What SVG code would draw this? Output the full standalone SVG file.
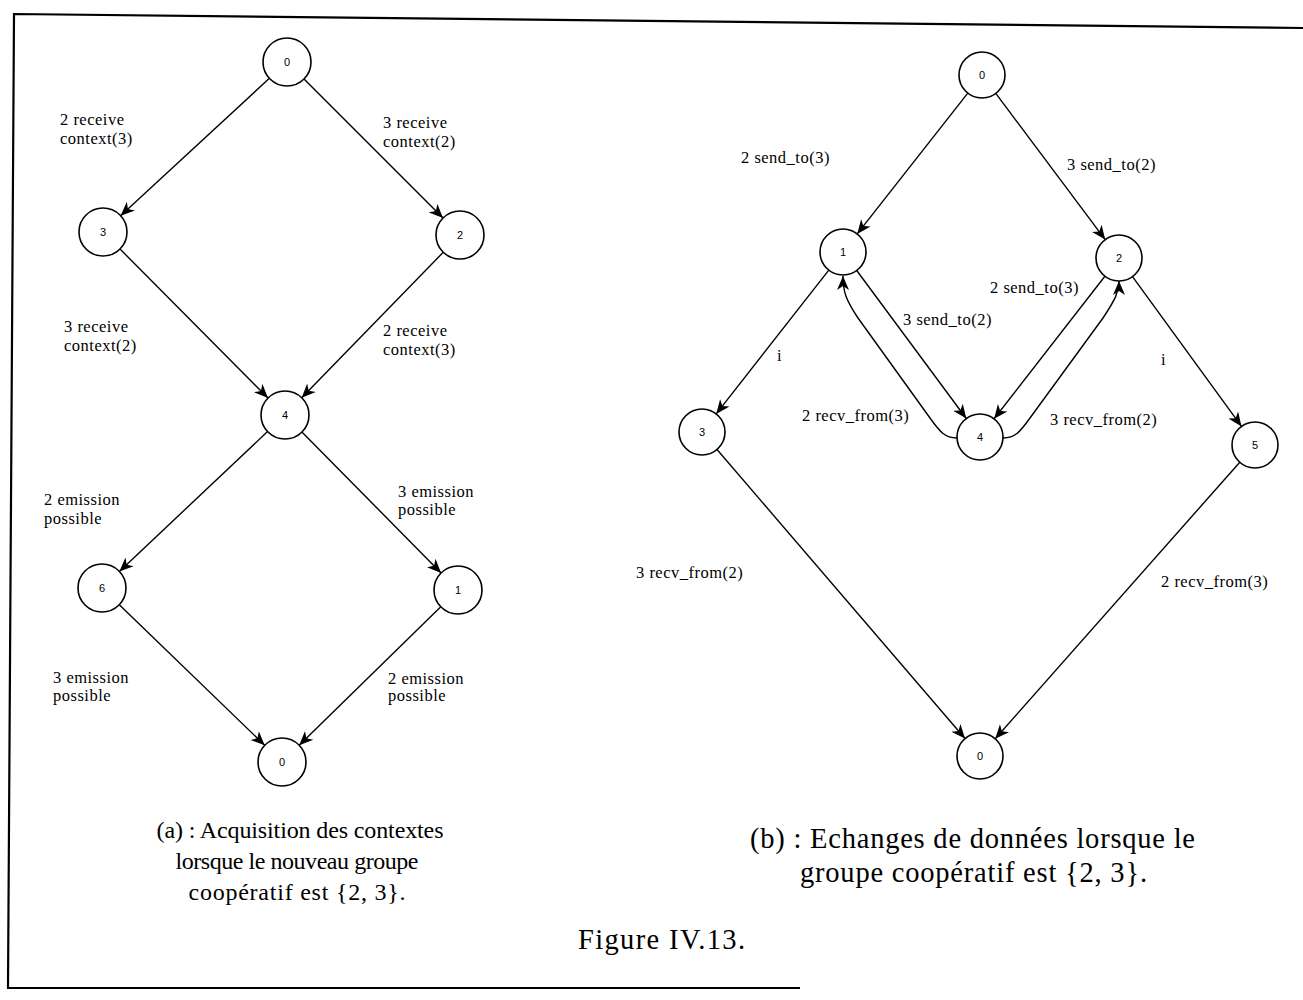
<svg xmlns="http://www.w3.org/2000/svg" width="1303" height="1000" viewBox="0 0 1303 1000">
<style>
.n{fill:#fff;stroke:#000;stroke-width:1.6}
.nl{font-family:"Liberation Sans",Arial,sans-serif;font-size:11px;text-anchor:middle;fill:#000}
.e{fill:none;stroke:#000;stroke-width:1.4;marker-end:url(#ah)}
.lb{font-family:"Liberation Serif","Times New Roman",serif;font-size:16.5px;letter-spacing:0.5px;fill:#000}
.cap{font-family:"Liberation Serif","Times New Roman",serif;font-size:24px;fill:#000;text-anchor:middle}
.capb{font-family:"Liberation Serif","Times New Roman",serif;font-size:28.5px;fill:#000}
</style>
<defs>
<marker id="ah" markerUnits="userSpaceOnUse" markerWidth="16" markerHeight="14" refX="14" refY="6" orient="auto" viewBox="0 0 16 12">
<path d="M14,6 L0,0 L4,6 L0,12 Z" fill="#000"/>
</marker>
</defs>
<rect width="1303" height="1000" fill="#fff"/>
<path d="M1303,28 L14,14 L8,988 L800,988" fill="none" stroke="#000" stroke-width="2.2"/>

<g id="connectors">
<line class="e" x1="269.4" y1="78.3" x2="120.6" y2="215.7"/>
<line class="e" x1="304" y1="79" x2="443" y2="218"/>
<line class="e" x1="120" y1="249" x2="268" y2="398"/>
<line class="e" x1="443.3" y1="252.2" x2="301.7" y2="397.8"/>
<line class="e" x1="267.6" y1="431.5" x2="119.4" y2="571.5"/>
<line class="e" x1="301.9" y1="432.1" x2="441.1" y2="572.9"/>
<line class="e" x1="119.3" y1="604.7" x2="264.7" y2="745.3"/>
<line class="e" x1="440.8" y1="606.8" x2="299.2" y2="745.2"/>

<line class="e" x1="967.8" y1="93.1" x2="857.2" y2="233.9"/>
<line class="e" x1="995.8" y1="93.4" x2="1105.2" y2="239.6"/>
<line class="e" x1="828.8" y1="270.1" x2="716.2" y2="413.9"/>
<line class="e" x1="856.7" y1="270.5" x2="966.3" y2="418.5"/>
<line class="e" x1="1104.9" y1="276.2" x2="994.1" y2="418.8"/>
<line class="e" x1="1132.5" y1="276.6" x2="1241.5" y2="426.4"/>
<line class="e" x1="717" y1="449.5" x2="965" y2="738.5"/>
<line class="e" x1="1239.8" y1="462.2" x2="995.2" y2="738.8"/>
<path class="e" d="M957,438 C945,438 940,432 930,418 L858,318 C846,300 843,292 843,276"/>
<path class="e" d="M1003,438 C1015,438 1020,432 1030,418 L1103,318 C1115,300 1119,292 1119,281"/>
</g>

<g id="a-labels">
<text class="lb" x="60" y="125">2 receive</text>
<text class="lb" x="60" y="144">context(3)</text>
<text class="lb" x="383" y="128">3 receive</text>
<text class="lb" x="383" y="147">context(2)</text>
<text class="lb" x="64" y="332">3 receive</text>
<text class="lb" x="64" y="351">context(2)</text>
<text class="lb" x="383" y="336">2 receive</text>
<text class="lb" x="383" y="355">context(3)</text>
<text class="lb" x="44" y="505">2 emission</text>
<text class="lb" x="44" y="524">possible</text>
<text class="lb" x="398" y="497">3 emission</text>
<text class="lb" x="398" y="515">possible</text>
<text class="lb" x="53" y="683">3 emission</text>
<text class="lb" x="53" y="701">possible</text>
<text class="lb" x="388" y="684">2 emission</text>
<text class="lb" x="388" y="701">possible</text>
</g>

<g id="b-labels">
<text class="lb" x="741" y="163">2 send_to(3)</text>
<text class="lb" x="1067" y="170">3 send_to(2)</text>
<text class="lb" x="990" y="293">2 send_to(3)</text>
<text class="lb" x="903" y="325">3 send_to(2)</text>
<text class="lb" x="777" y="361">i</text>
<text class="lb" x="1161" y="365">i</text>
<text class="lb" x="802" y="421">2 recv_from(3)</text>
<text class="lb" x="1050" y="425">3 recv_from(2)</text>
<text class="lb" x="636" y="578">3 recv_from(2)</text>
<text class="lb" x="1161" y="587">2 recv_from(3)</text>
</g>

<g id="a0"><circle class="n" cx="287" cy="62" r="24"/><text class="nl" x="287" y="66">0</text></g>
<g id="a3"><circle class="n" cx="103" cy="232" r="24"/><text class="nl" x="103" y="236">3</text></g>
<g id="a2"><circle class="n" cx="460" cy="235" r="24"/><text class="nl" x="460" y="239">2</text></g>
<g id="a4"><circle class="n" cx="285" cy="415" r="24"/><text class="nl" x="285" y="419">4</text></g>
<g id="a6"><circle class="n" cx="102" cy="588" r="24"/><text class="nl" x="102" y="592">6</text></g>
<g id="a1"><circle class="n" cx="458" cy="590" r="24"/><text class="nl" x="458" y="594">1</text></g>
<g id="a0b"><circle class="n" cx="282" cy="762" r="24"/><text class="nl" x="282" y="766">0</text></g>

<g id="b0"><circle class="n" cx="982" cy="75" r="23"/><text class="nl" x="982" y="79">0</text></g>
<g id="b1"><circle class="n" cx="843" cy="252" r="23"/><text class="nl" x="843" y="256">1</text></g>
<g id="b2"><circle class="n" cx="1119" cy="258" r="23"/><text class="nl" x="1119" y="262">2</text></g>
<g id="b3"><circle class="n" cx="702" cy="432" r="23"/><text class="nl" x="702" y="436">3</text></g>
<g id="b4"><circle class="n" cx="980" cy="437" r="23"/><text class="nl" x="980" y="441">4</text></g>
<g id="b5"><circle class="n" cx="1255" cy="445" r="23"/><text class="nl" x="1255" y="449">5</text></g>
<g id="b0b"><circle class="n" cx="980" cy="756" r="23"/><text class="nl" x="980" y="760">0</text></g>

<g id="captions">
<text class="cap" x="300" y="838" textLength="287" lengthAdjust="spacing">(a) : Acquisition des contextes</text>
<text class="cap" x="297" y="869" textLength="243" lengthAdjust="spacing">lorsque le nouveau groupe</text>
<text class="cap" x="297" y="900" textLength="217" lengthAdjust="spacing">coopératif est {2, 3}.</text>
<text class="capb" x="750" y="848" textLength="445" lengthAdjust="spacing">(b) : Echanges de données lorsque le</text>
<text class="capb" x="800" y="882" textLength="347" lengthAdjust="spacing">groupe coopératif est {2, 3}.</text>
<text class="capb" x="578" y="949" textLength="167" lengthAdjust="spacing">Figure IV.13.</text>
</g>
</svg>
